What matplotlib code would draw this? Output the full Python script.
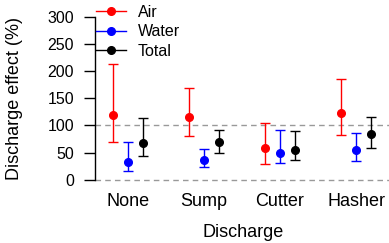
import numpy as np
import matplotlib.pyplot as plt
from matplotlib.lines import Line2D

plt.rcParams['font.family'] = ['Liberation Sans', 'DejaVu Sans']

discharge = ['None', 'Sump', 'Cutter', 'Hasher']
series = ['Air', 'Water', 'Total']
colors = ['#ff0000', '#0000ff', '#000000']

# mean, lower, upper per discharge
air_mean = [120, 116, 58, 123]
air_lo = [69, 81, 29, 82]
air_hi = [214, 170, 105, 185]
water_mean = [33, 37, 50, 54]
water_lo = [16, 24, 30, 34]
water_hi = [70, 57, 91, 86]
total_mean = [68, 69, 55, 84]
total_lo = [43, 50, 37, 59]
total_hi = [114, 92, 90, 116]

means = [air_mean, water_mean, total_mean]
los = [air_lo, water_lo, total_lo]
his = [air_hi, water_hi, total_hi]

fig = plt.figure(figsize=(3.89, 2.43), dpi=100)
ax = fig.add_axes([95 / 389, 1 - 190 / 243, 294 / 389, 180 / 243])

x = np.arange(1, len(discharge) + 1)
offsets = [-0.2, 0.0, 0.2]

for h in [0, 100]:
    ax.axhline(h, color='#999999', lw=1, dashes=(4, 3), zorder=0)

for m, lo, hi, off, c in zip(means, los, his, offsets, colors):
    m = np.array(m)
    yerr = [m - np.array(lo), np.array(hi) - m]
    ax.errorbar(x + off, m, yerr=yerr, fmt='o', color=c, ms=5.5,
                elinewidth=1, capsize=3.5, capthick=1)

ax.set_xlim(0.566, 4.434)
ax.set_ylim(-19, 313)
ax.set_yticks([0, 50, 100, 150, 200, 250, 300])
ax.set_xticks(x)
ax.set_xticklabels(discharge, fontsize=13)
ax.tick_params(axis='x', length=0, pad=2)
ax.tick_params(axis='y', length=8, width=1, pad=7, labelsize=11.5)

for s in ['top', 'right', 'bottom']:
    ax.spines[s].set_visible(False)
ax.spines['left'].set_bounds(0, 300)
ax.spines['left'].set_linewidth(1)

ax.set_xlabel('Discharge', fontsize=13)
ax.set_ylabel('Discharge effect (%)', fontsize=13)
ax.xaxis.set_label_coords((243 - 95) / 294, -(232 - 190) / 180)
ax.yaxis.set_label_coords(-(95 - 15) / 294, (190 - 99) / 180)
ax.xaxis.label.set_va('center')
ax.yaxis.label.set_va('center')

handles = [Line2D([], [], color=c, marker='o', ms=5.5, lw=1) for c in colors]
leg = ax.legend(handles, series, loc='upper left',
                bbox_to_anchor=(96 / 389, 1 - 5 / 243),
                bbox_transform=fig.transFigure, frameon=False,
                fontsize=11.5, handlelength=1.9, handletextpad=0.7,
                labelspacing=0.28, borderpad=0, borderaxespad=0)

fig.savefig('out.png', dpi=100)
